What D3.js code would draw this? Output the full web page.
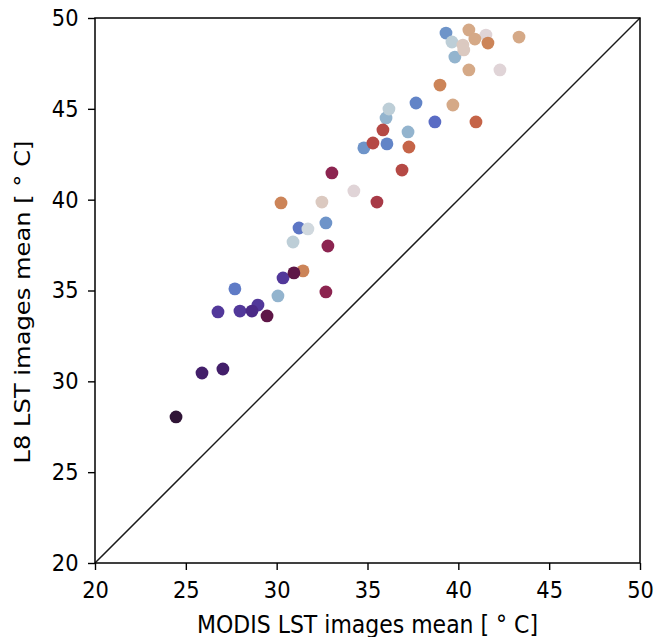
<!DOCTYPE html>
<html>
<head>
<meta charset="utf-8">
<script src="https://cdn.jsdelivr.net/npm/d3@7"></script>
<style>
  html, body { margin: 0; padding: 0; background: #fff; }
  svg { display: block; }
  text { font-family: "DejaVu Sans", sans-serif; fill: #000; }
</style>
</head>
<body>
<svg id="chart" width="655" height="637"></svg>
<script>
// ---- data ----
const modisMean = [24.46, 25.89, 27.04, 26.77, 27.98, 28.97, 30.35, 28.64, 27.70, 31.23,
                   38.71, 37.67, 36.07, 32.71, 34.80, 39.32, 36.02, 39.81, 37.23, 30.07,
                   36.18, 30.90, 39.65, 31.72, 34.25, 42.29, 41.52, 32.49, 40.25, 40.30,
                   40.58, 40.91, 43.34, 40.58, 39.70, 38.99, 41.63, 30.24, 31.45, 40.97,
                   37.28, 35.85, 35.30, 36.90, 35.52, 33.04, 32.82, 32.71, 30.95, 29.47];
const l8Mean    = [28.04, 30.46, 30.68, 33.82, 33.87, 34.20, 35.69, 33.87, 35.09, 38.44,
                   44.28, 45.32, 43.07, 38.72, 42.85, 49.17, 44.50, 47.85, 43.73, 34.70,
                   44.99, 37.67, 48.68, 38.39, 40.48, 47.14, 49.06, 39.87, 48.51, 48.24,
                   49.34, 48.84, 48.95, 47.14, 45.21, 46.31, 48.62, 39.82, 36.08, 44.28,
                   42.90, 43.84, 43.12, 41.63, 39.87, 41.47, 37.45, 34.92, 35.97, 33.60];
const colorValue = [0.00, 0.08, 0.08, 0.15, 0.15, 0.15, 0.15, 0.12, 0.27, 0.26,
                    0.24, 0.29, 0.29, 0.32, 0.32, 0.32, 0.38, 0.38, 0.38, 0.38,
                    0.44, 0.44, 0.44, 0.47, 0.52, 0.52, 0.52, 0.56, 0.56, 0.56,
                    0.62, 0.62, 0.62, 0.62, 0.62, 0.68, 0.68, 0.68, 0.68, 0.73,
                    0.73, 0.78, 0.78, 0.78, 0.81, 0.86, 0.86, 0.86, 0.93, 0.93];
const xTicks = [20, 25, 30, 35, 40, 45, 50];
const yTicks = [20, 25, 30, 35, 40, 45, 50];
const xLabel = "MODIS LST images mean [ \u00B0 C]";
const yLabel = "L8 LST images mean [ \u00B0 C]";

// ---- layout ----
const margin = {left: 95, top: 18, right: 15, bottom: 74};
const W = 655, H = 637;
const stretch = 1.1;
const svg = d3.select("#chart");
const x = d3.scaleLinear().domain([20, 50]).range([margin.left, W - margin.right]);
const y = d3.scaleLinear().domain([20, 50]).range([H - margin.bottom, margin.top]);

// twilight_shifted approximation
const stops = [
  [0.00, "#2f1436"], [0.06, "#3f1a5c"], [0.12, "#4b2a87"], [0.18, "#5846ac"],
  [0.24, "#5a6cc4"], [0.30, "#6389c8"], [0.36, "#84aacb"], [0.42, "#b0c8d3"],
  [0.48, "#d6dbe0"], [0.50, "#e2d9e2"], [0.56, "#dbc9c0"], [0.62, "#d5a987"],
  [0.68, "#cc8458"], [0.74, "#c45e45"], [0.80, "#ad3e45"], [0.86, "#8c2450"],
  [0.93, "#5e1647"], [1.00, "#2f1436"]];
const cmap = d3.scaleLinear().domain(stops.map(s => s[0])).range(stops.map(s => s[1]))
  .interpolate(d3.interpolateRgb);

const pts = modisMean.map((m, i) => ({x: m, y: l8Mean[i], c: colorValue[i]}));

svg.append("g").selectAll("circle").data(pts).join("circle")
  .attr("cx", d => x(d.x)).attr("cy", d => y(d.y)).attr("r", 6.4)
  .attr("fill", d => cmap(d.c));

// 1:1 line
svg.append("line")
  .attr("x1", x(20)).attr("y1", y(20)).attr("x2", x(50)).attr("y2", y(50))
  .attr("stroke", "#1a1a1a").attr("stroke-width", 1.5);

// frame
svg.append("rect")
  .attr("x", x(20)).attr("y", y(50)).attr("width", x(50) - x(20)).attr("height", y(20) - y(50))
  .attr("fill", "none").attr("stroke", "#000").attr("stroke-width", 1.5);

const fs = 21;
const xAxis = svg.append("g").attr("transform", `translate(0,${y(20)})`)
  .call(d3.axisBottom(x).tickValues(xTicks).tickSize(7).tickPadding(9.5).tickFormat(d3.format("d")));
const yAxis = svg.append("g").attr("transform", `translate(${x(20)},0)`)
  .call(d3.axisLeft(y).tickValues(yTicks).tickSize(7).tickPadding(9.5).tickFormat(d3.format("d")));
[xAxis, yAxis].forEach(g => {
  g.select(".domain").remove();
  g.selectAll(".tick line").attr("stroke", "#000").attr("stroke-width", 1.4);
  g.selectAll(".tick text").attr("font-size", fs).attr("font-family", "DejaVu Sans")
    .attr("fill", "#000").attr("transform", `scale(1,${stretch})`);
});

svg.append("text")
  .attr("transform", `translate(${(x(20) + x(50)) / 2},633) scale(1,${stretch})`)
  .attr("text-anchor", "middle").attr("font-size", 22).text(xLabel);
svg.append("text")
  .attr("transform", `translate(29.5,302) rotate(-90) scale(${stretch},1)`)
  .attr("text-anchor", "middle").attr("font-size", 22).text(yLabel);
</script>
</body>
</html>
